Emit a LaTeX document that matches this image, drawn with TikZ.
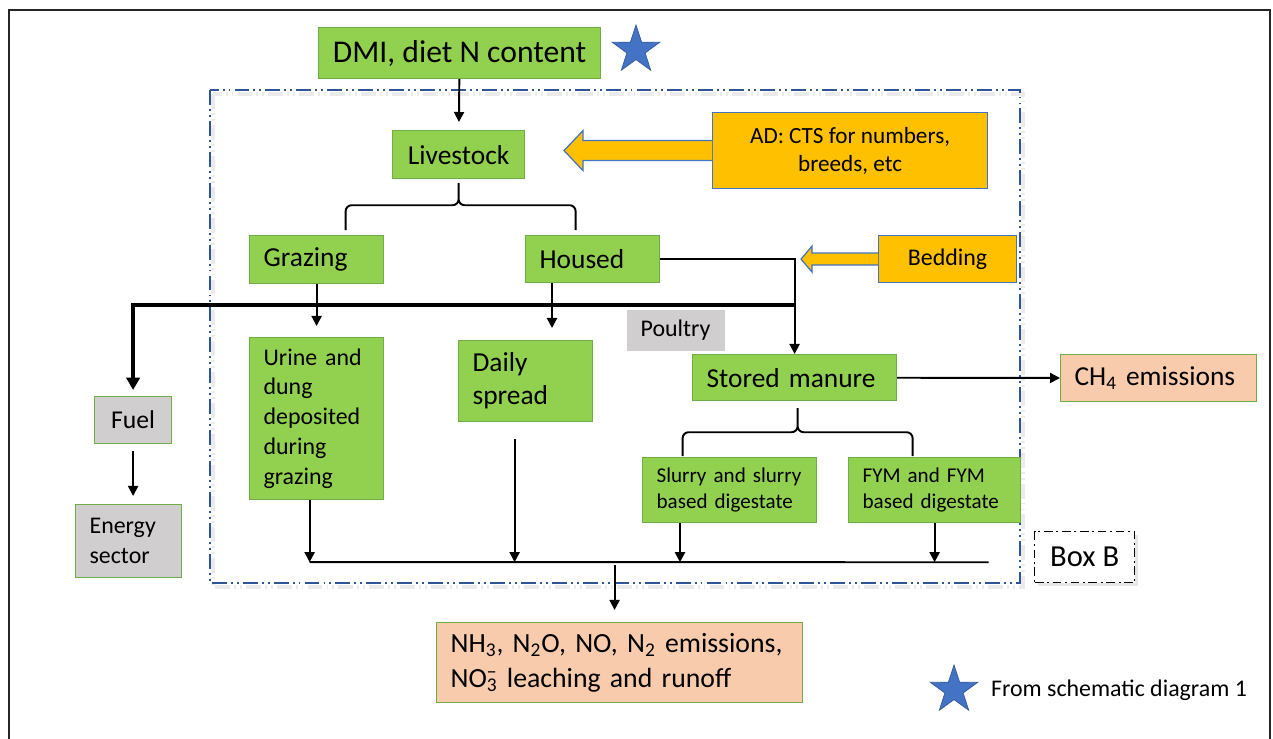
\documentclass[tikz,border=0pt]{standalone}
\usepackage{fontspec}
\setmainfont{Carlito}
\usetikzlibrary{arrows.meta,positioning,shapes.geometric,calc,shadows}
\definecolor{leafgreen}{HTML}{92D050}
\definecolor{edgegreen}{HTML}{70AD47}
\definecolor{amber}{HTML}{FFC000}
\definecolor{edgeblue}{HTML}{4472C4}
\definecolor{peach}{HTML}{F8CBAD}
\definecolor{stone}{HTML}{D0CECE}
\definecolor{frameblue}{HTML}{2F5597}

\begin{document}
\begin{tikzpicture}[x=0.02cm, y=-0.02cm, font=\fontsize{15.6}{18.8}\selectfont,
    box/.style={draw=edgegreen, line width=0.7pt, inner sep=0pt, anchor=north west},
    greenbox/.style={box, fill=leafgreen},
    greybox/.style={box, fill=stone},
    peachbox/.style={box, fill=peach},
    amberbox/.style={box, draw=edgeblue, fill=amber},
    lefttext/.style={align=left, inner xsep=0.28cm, text width=#1},
    midfont/.style={font=\fontsize{13.6}{17}\selectfont},
    smallfont/.style={font=\fontsize{12}{14.8}\selectfont},
    conn/.style={line width=1.1pt, -{Triangle[length=5.7pt,width=5.7pt]}},
    heavyconn/.style={line width=2.4pt, -{Triangle[length=7pt,width=7.5pt]}},
    bracket/.style={line width=1.1pt, rounded corners=0.12cm},
    blockarrow/.style={draw=edgeblue, line width=0.7pt, fill=amber},
    dashdotdot/.style={dash pattern=on 8.5pt off 2.3pt on 1.1pt off 2.3pt on 1.1pt off 2.3pt},
    keystar/.style={star, star points=5, star point ratio=2.6, fill=edgeblue,
      draw=edgeblue!80!black, line width=0.4pt, minimum size=1cm, inner sep=0pt},
  ]
\useasboundingbox (0,0) rectangle (1273,739);
\draw[line width=1.2pt, black!85] (9,739) |- (1270,10) -- (1270,739);

% box B region
\draw[black!8, line width=2pt, dashdotdot] (213,94) rectangle (1023,587);
\draw[frameblue, line width=0.7pt, dashdotdot] (210,90) rectangle (1020,583);

\node[greenbox, font=\fontsize{18}{22}\selectfont, minimum width=5.64cm, minimum height=1.02cm] (dmi) at (318,27) {DMI, diet N content};
\node[keystar] (topstar) at (636,50) {};

\node[greenbox, minimum width=2.64cm, minimum height=0.96cm] (livestock) at (392,130) {Livestock};
\node[amberbox, font=\fontsize{13.2}{16}\selectfont, align=center, minimum width=5.5cm, minimum height=1.52cm] (ad) at (712,112) {AD: CTS for numbers,\\breeds, etc};
\node[amberbox, midfont, minimum width=2.76cm, minimum height=0.94cm] (bedding) at (878,235) {Bedding};

\node[greenbox, lefttext=2.12cm, minimum height=0.96cm] (grazing) at (249,235) {Grazing};
\node[greenbox, lefttext=2.12cm, minimum height=0.94cm] (housed) at (525,235) {Housed};
\node[greenbox, lefttext=2.12cm, midfont, minimum height=3.24cm] (urine) at (249,337) {Urine and\\dung\\deposited\\during\\grazing};
\node[greenbox, lefttext=2.12cm, minimum height=1.62cm] (daily) at (458,340) {Daily\\spread};
\node[box, draw=none, fill=stone, midfont, minimum width=1.96cm, minimum height=0.82cm] (poultry) at (626,309) {Poultry};
\node[greenbox, lefttext=3.52cm, minimum height=0.92cm] (stored) at (692,354) {Stored manure};
\node[peachbox, lefttext=3.36cm, minimum height=0.94cm] (ch4) at (1060,354) {CH\textsubscript{4} emissions};
\node[greenbox, lefttext=2.92cm, smallfont, minimum height=1.3cm] (slurry) at (642,457) {Slurry and slurry\\based digestate};
\node[greenbox, lefttext=2.88cm, smallfont, minimum height=1.3cm] (fym) at (848,457) {FYM and FYM\\based digestate};

\node[greybox, font=\fontsize{14.6}{18}\selectfont, minimum width=1.54cm, minimum height=0.94cm] (fuel) at (94,396) {Fuel};
\node[greybox, lefttext=1.56cm, midfont, minimum height=1.46cm] (energy) at (75,504) {Energy\\sector};

\node[peachbox, lefttext=6.76cm, font=\fontsize{15.8}{20}\selectfont, minimum height=1.6cm] (emis) at (436,622)
  {NH\textsubscript{3}, N\textsubscript{2}O, NO, N\textsubscript{2} emissions,\\NO\rlap{\textsuperscript{−}}\textsubscript{3} leaching and runoff};

\node[box, draw=black, fill=white, line width=0.8pt, dash pattern=on 5pt off 2pt on 1.2pt off 2pt,
  drop shadow={shadow xshift=0.06cm, shadow yshift=-0.06cm, opacity=0.2},
  font=\fontsize{17.4}{21}\selectfont, minimum width=2cm, minimum height=1.02cm] (boxb) at (1034,531) {Box B};

\node[keystar] (keystar) at (954,690) {};
\node[anchor=west, midfont] (keytext) at (985,690) {From schematic diagram 1};

% connectors
\draw[conn, shorten >=0.16cm] (dmi) -- (livestock);
\draw[blockarrow] (ad.west) ++(0,-10) -- ++(-129,0) -- ++(0,-10) -- ++(-19,20) -- ++(19,20) -- ++(0,-10) -- ++(129,0);
\draw[blockarrow] (bedding.west) ++(0,-6) -- ++(-66,0) -- ++(0,-7) -- ++(-11,13) -- ++(11,13) -- ++(0,-7) -- ++(66,0);

\coordinate (lvtip) at ($(livestock.south)+(0,4)$);
\coordinate (lvmid) at ($(livestock.south)+(0,26)$);
\draw[bracket] ($(livestock.south)+(-113,51)$) |- (lvmid) -- (lvtip)
  ($(livestock.south)+(117,51)$) |- (lvmid) -- (lvtip);

\draw[conn, shorten >=0.22cm] (grazing) -- (urine);
\coordinate (hd) at ($(housed.south west)+(27,0)$);
\draw[conn, shorten >=0.24cm] (hd) -- (hd |- daily.north);
\draw[conn] (housed.east) -| (stored.north);
\coordinate (split) at ($(stored.north)+(0,-49)$);
\draw[heavyconn, shorten >=0.12cm] (split) -| (fuel.north);
\draw[conn, shorten <=0.14cm, shorten >=0.16cm] (fuel.south) -- (fuel.south |- energy.north);
\draw[conn] (stored) -- (ch4);

\coordinate (smtip) at ($(stored.south)+(3,7)$);
\coordinate (smmid) at ($(stored.south)+(3,31)$);
\draw[bracket] ($(stored.south)+(-112,55)$) |- (smmid) -- (smtip)
  ($(stored.south)+(118,55)$) |- (smmid) -- (smtip);

% collecting line
\coordinate (busL) at ($(urine.south)+(-7,62)$);
\coordinate (busR) at ($(fym.south)+(54,39)$);
\draw[line width=1.1pt] (busL) -- (busR);
\coordinate (uout) at ($(urine.south)+(-7,0)$);
\draw[conn] (uout) -- (busL);
\coordinate (dsout) at ($(daily.south)+(-11,0)$);
\draw[conn, shorten <=0.34cm] (dsout) -- (dsout |- busL);
\coordinate (slout) at ($(slurry.south west)+(38,0)$);
\draw[conn] (slout) -- (slout |- busL);
\draw[conn] (fym.south) -- (fym.south |- busL);
\coordinate (emin) at ($(emis.north)+(-5,0)$);
\draw[conn, shorten <=0.06cm, shorten >=0.24cm] (emin |- busL) -- (emin);
\end{tikzpicture}
\end{document}
